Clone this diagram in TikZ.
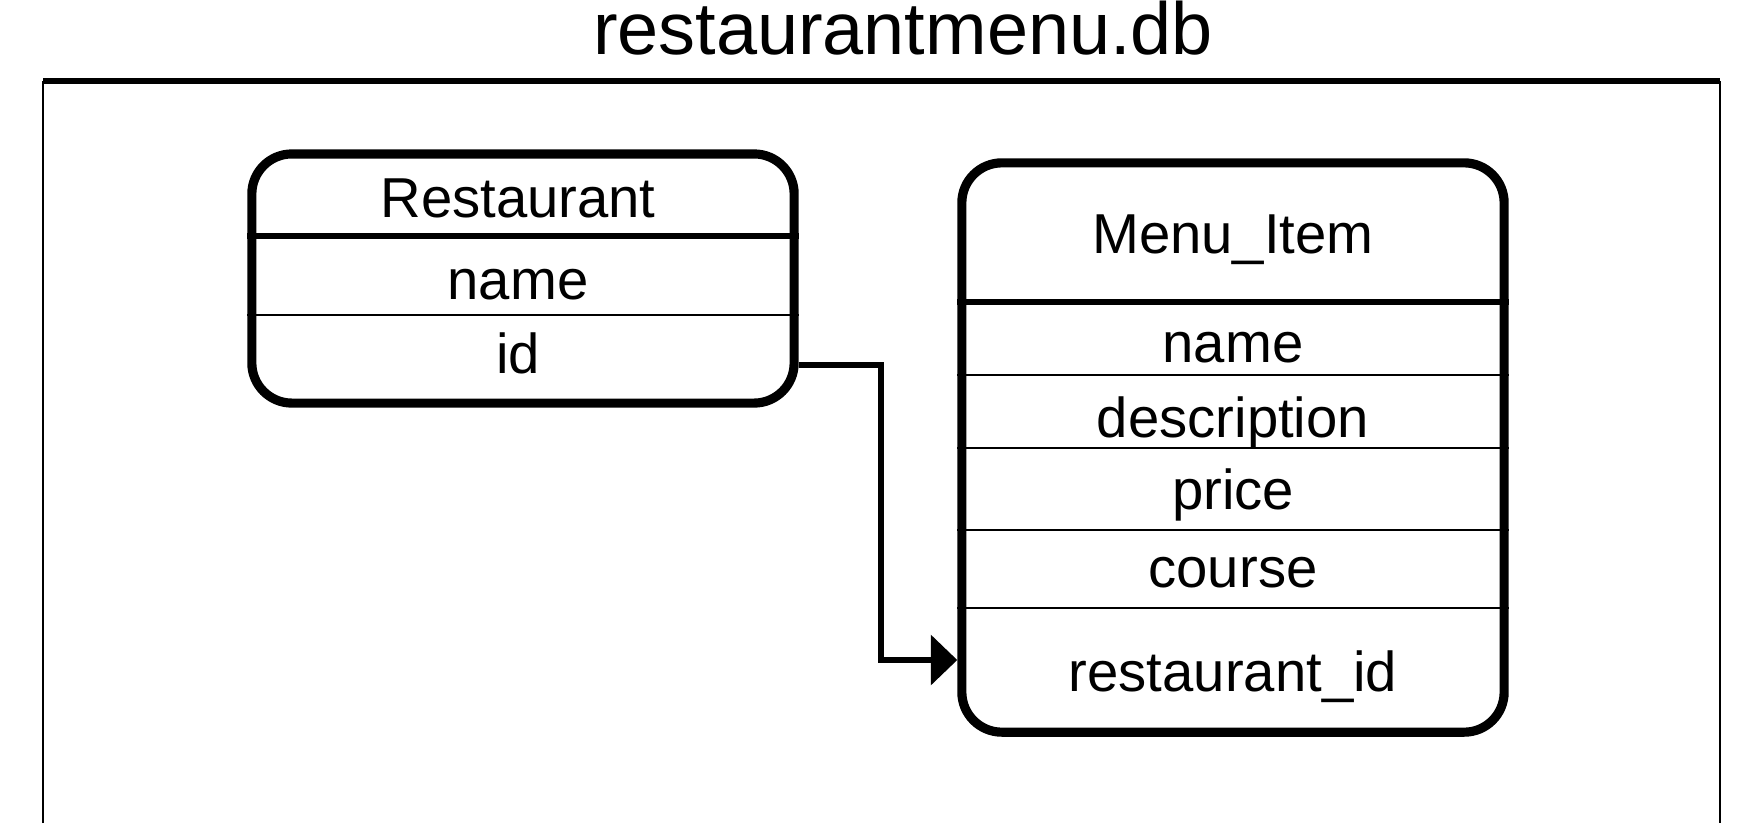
\documentclass[tikz,border=0pt]{standalone}
\usepackage{fontspec}
\setmainfont{Liberation Sans}
\usetikzlibrary{arrows.meta}
\tikzset{
  table/.style={draw=black, line width=2.6pt, rounded corners=0.4cm, inner sep=0pt},
  headsep/.style={line width=1.6pt},
  rowsep/.style={line width=0.45pt},
  field/.style={font=\fontsize{16}{18}\selectfont, inner sep=0pt, anchor=center},
  link/.style={line width=1.6pt, -{Triangle[length=7.5pt,width=14pt]}},
  frame/.style={line width=0.6pt},
  frametop/.style={line width=1.5pt}
}
\begin{document}
\begin{tikzpicture}[x=0.01cm,y=-0.01cm]
\useasboundingbox (0,0) rectangle (1759,823);
% title
\node[font=\fontsize{21}{24}\selectfont] (title) at (903,28) {restaurantmenu.db};
% outer frame
\coordinate (ftl) at (43,81);
\coordinate (ftr) at (1720,81);
\coordinate (fbl) at (43,823);
\coordinate (fbr) at (1720,823);
\draw[frame] (fbl) -- (ftl);
\draw[frame] (ftr) -- (fbr);
\draw[frametop] (ftl) -- (ftr);
% Restaurant table
\node[table, minimum width=5.42cm, minimum height=2.49cm] (rest) at (523,278.5) {};
\draw[headsep] (rest.west |- 0,236) -- (rest.east |- 0,236);
\draw[rowsep] (rest.west |- 0,315) -- (rest.east |- 0,315);
\node[field] (rtitle) at (518,198) {Restaurant};
\node[field] (rname) at (518,285) {name};
\node[field] (rid) at (518,353) {id};
% Menu_Item table
\node[table, minimum width=5.42cm, minimum height=5.69cm] (menu) at (1233,447.5) {};
\draw[headsep] (menu.west |- 0,302) -- (menu.east |- 0,302);
\draw[rowsep] (menu.west |- 0,375) -- (menu.east |- 0,375);
\draw[rowsep] (menu.west |- 0,448) -- (menu.east |- 0,448);
\draw[rowsep] (menu.west |- 0,530) -- (menu.east |- 0,530);
\draw[rowsep] (menu.west |- 0,608) -- (menu.east |- 0,608);
\node[field] (mtitle) at (menu.center |- 0,240) {Menu\_Item};
\node[field] (mname) at (menu.center |- 0,348) {name};
\node[field] (mdesc) at (menu.center |- 0,423) {description};
\node[field] (mprice) at (menu.center |- 0,495) {price};
\node[field] (mcourse) at (menu.center |- 0,573) {course};
\node[field] (mrid) at (menu.center |- 0,677) {restaurant\_id};
% connector
\coordinate (cstart) at (rest.east |- 0,365);
\coordinate (cbend) at (881,365);
\coordinate (cend) at (menu.west |- 0,660);
\draw[link] (cstart) -- (cbend) |- (cend);
\end{tikzpicture}
\end{document}
